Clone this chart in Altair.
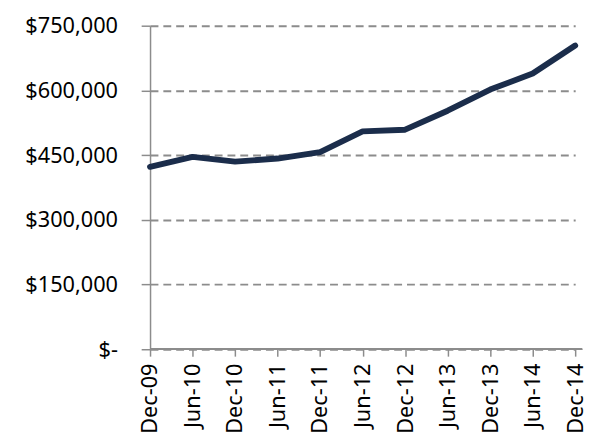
import altair as alt
import pandas as pd

periods = ["Dec-09", "Jun-10", "Dec-10", "Jun-11", "Dec-11", "Jun-12",
           "Dec-12", "Jun-13", "Dec-13", "Jun-14", "Dec-14"]
values = [423000, 446000, 435000, 442000, 457000, 505000,
          509000, 553000, 602000, 639000, 704000]
y_ticks = [0, 150000, 300000, 450000, 600000, 750000]

df = pd.DataFrame({"period": periods, "value": values})

W, H = 438, 328
FONT = "Noto Sans"
GRAY = "#8c8c8c"

line = alt.Chart(df).mark_line(
    color="#1b2d4b", strokeWidth=6, strokeCap="round", strokeJoin="round"
).encode(
    x=alt.X("period:N", sort=periods, title=None,
            scale=alt.Scale(type="point", range=[0, 431], padding=0),
            axis=alt.Axis(labelAngle=-90, labelFontSize=22, labelFont=FONT,
                          labelColor="black", labelPadding=7, labelFontWeight="normal",
                          tickColor=GRAY, tickWidth=1.5, tickSize=7,
                          domain=False, grid=False)),
    y=alt.Y("value:Q", title=None,
            scale=alt.Scale(domain=[0, 750000], nice=False, zero=True),
            axis=alt.Axis(values=y_ticks,
                          labelExpr="datum.value == 0 ? '$-\u00a0\u00a0' : '$' + format(datum.value, ',')",
                          labelFontSize=22, labelFont=FONT, labelColor="black",
                          labelFontWeight="normal",
                          labelPadding=24, tickColor=GRAY, tickWidth=1.5, tickSize=9,
                          domainColor=GRAY, domainWidth=1.5,
                          grid=True, gridColor=GRAY, gridWidth=2, gridDash=[8, 5])),
)

baseline = alt.Chart(df).mark_rule(color=GRAY, strokeWidth=1.5).encode(
    y=alt.datum(0), x=alt.value(0), x2=alt.value(W)
)

chart = alt.layer(baseline, line).properties(
    width=W, height=H,
    autosize=alt.AutoSizeParams(type="none"),
    padding={"left": 144, "top": 15, "right": 6, "bottom": 85},
).configure_view(stroke=None)

chart.save("out.html", embed_options={"renderer": "svg", "actions": False})
